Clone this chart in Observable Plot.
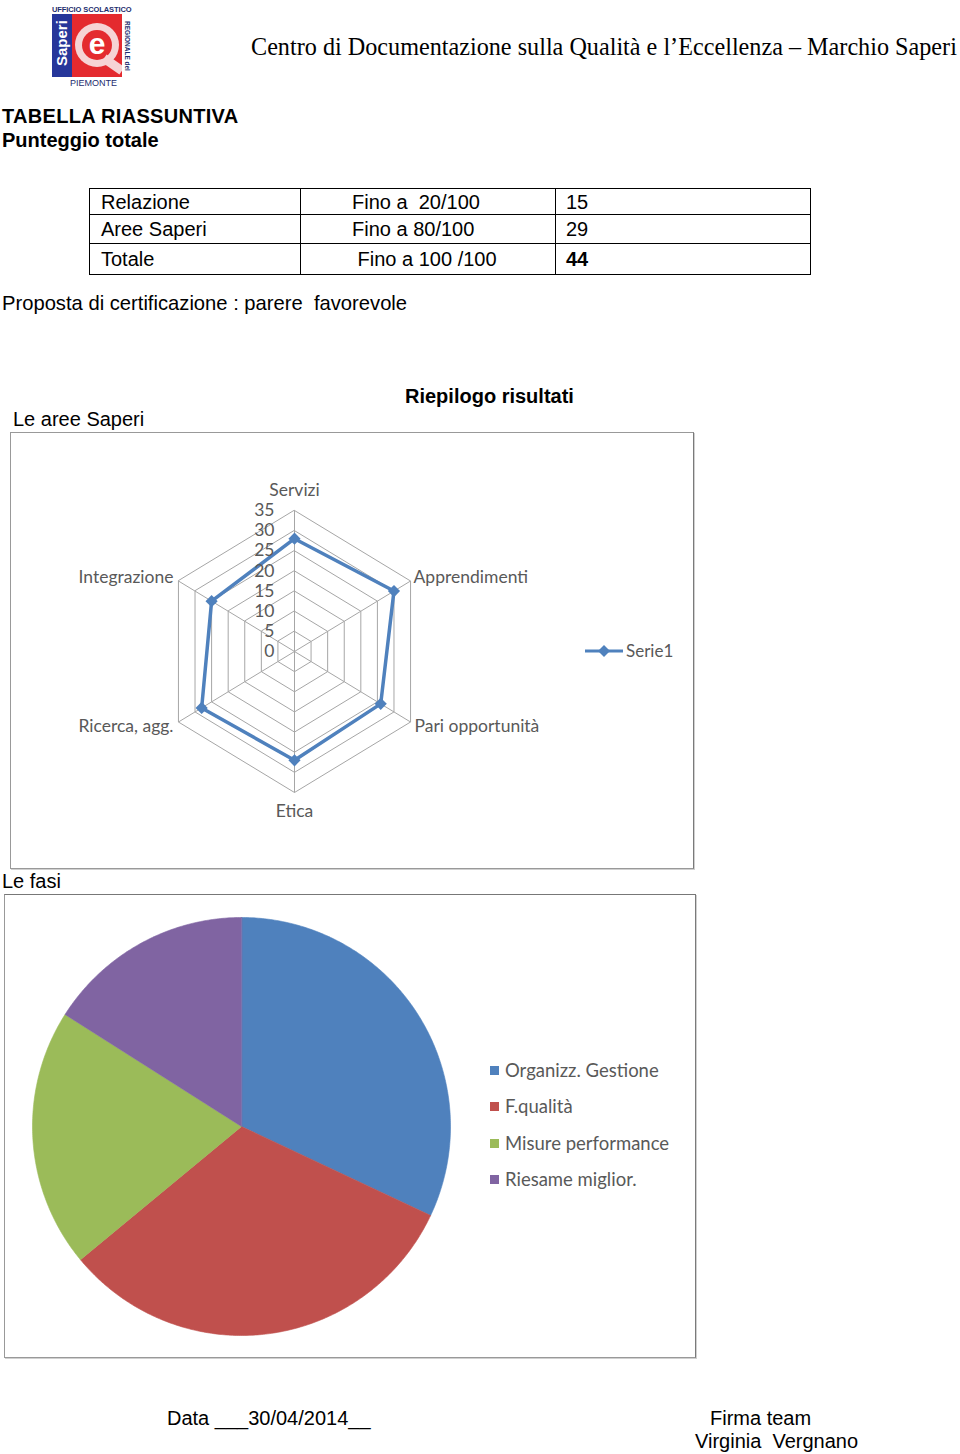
<!DOCTYPE html>
<html><head><meta charset="utf-8">
<script src="https://cdn.jsdelivr.net/npm/d3@7"></script>
<script src="https://cdn.jsdelivr.net/npm/@observablehq/plot@0.6"></script>
<style>
html,body{margin:0;padding:0;background:#fff}
body{width:960px;height:1454px;position:relative;overflow:hidden;font-family:"Liberation Sans",Arial,sans-serif;color:#000}
.t{position:absolute;white-space:pre;line-height:1}
.box{position:absolute;box-sizing:border-box;border:1px solid #999;border-right-color:#7a7a7a;box-shadow:1px 1px 0 #d0d0d0}
.chart{position:absolute}
table.sum{position:absolute;left:89px;top:188px;border-collapse:collapse;font-size:20px}
table.sum td{border:1px solid #000;padding:0;vertical-align:middle;white-space:pre;line-height:1}
.lg{position:absolute;font-family:Lato,"Open Sans",sans-serif;color:#595959;font-size:18.5px;line-height:1;white-space:pre}
.sq{position:absolute;width:9px;height:9px}
</style></head><body>
<script>
// ---------- data ----------
const headerTitle = "Centro di Documentazione sulla Qualità e l’Eccellenza – Marchio Saperi";
const tableLabels = ["Relazione", "Aree Saperi", "Totale"];
const tableRanges = ["Fino a  20/100", "Fino a 80/100", " Fino a 100 /100"];
const tableScores = ["15", "29", "44"];

const radarAxes = ["Servizi", "Apprendimenti", "Pari opportunità", "Etica", "Ricerca, agg.", "Integrazione"];
const serie1 = [28, 30, 26, 27, 28, 25];
const radarTicks = [0, 5, 10, 15, 20, 25, 30, 35];
const radarSeriesName = "Serie1";

const phases = ["Organizz. Gestione", "F.qualità", "Misure performance", "Riesame miglior."];
const phaseValues = [8, 8, 5, 4];
const phaseColors = ["#4F81BD", "#C0504D", "#9BBB59", "#8064A2"];
</script>

<!-- logo -->
<div style="position:absolute;left:52px;top:5px;width:80px;font:bold 7.5px 'Liberation Sans',Arial;color:#1d2d6e;letter-spacing:-0.1px;white-space:nowrap">UFFICIO SCOLASTICO</div>
<div style="position:absolute;left:52px;top:14px;width:20px;height:63px;background:#26369a"></div>
<div style="position:absolute;left:41px;top:36px;width:42px;height:18px;transform:rotate(-90deg);color:#fff;font:bold 15px 'Liberation Sans',Arial;text-align:center;line-height:18px">Saperi</div>
<div style="position:absolute;left:72px;top:14px;width:50px;height:63px;background:#e42a2f;overflow:hidden">
  <div style="position:absolute;left:3px;top:9px;width:44px;height:44px;border-radius:50%;background:#f6d3d5"></div>
  <div style="position:absolute;left:10px;top:16px;width:30px;height:30px;border-radius:50%;background:#e42a2f;color:#fff;font:bold 30px 'Liberation Sans',Arial;text-align:center;line-height:27px">e</div>
  <div style="position:absolute;left:30px;top:46px;width:22px;height:9px;background:#f6d3d5;transform:rotate(35deg)"></div>
</div>
<div style="position:absolute;left:96px;top:42px;width:62px;height:8px;transform:rotate(90deg);font:bold 6.5px 'Liberation Sans',Arial;color:#1d2d6e;white-space:nowrap;text-align:center;line-height:8px">REGIONALE del</div>
<div style="position:absolute;left:70px;top:78px;font:9px 'Liberation Sans',Arial;color:#1d2d6e;white-space:nowrap">PIEMONTE</div>

<div id="hdr" class="t" style="left:251px;top:35px;font-family:'Liberation Serif','Times New Roman',serif;font-size:24.2px"></div>

<div class="t" style="left:2px;top:106px;font-size:20px;font-weight:bold;letter-spacing:0.3px">TABELLA RIASSUNTIVA</div>
<div class="t" style="left:2px;top:130px;font-size:20px;font-weight:bold">Punteggio totale</div>

<table class="sum" id="sumTable"></table>

<div class="t" style="left:2px;top:293px;font-size:20.2px">Proposta di certificazione : parere  favorevole</div>

<div class="t" style="left:405px;top:386px;font-size:20px;font-weight:bold">Riepilogo risultati</div>
<div class="t" style="left:13px;top:409px;font-size:20px">Le aree Saperi</div>

<div class="box" style="left:10px;top:432px;width:684px;height:437px"></div>
<div class="chart" id="radar" style="left:10px;top:432px"></div>
<svg style="position:absolute;left:583px;top:643px" width="44" height="16">
  <line x1="2" y1="8" x2="40" y2="8" stroke="#4F81BD" stroke-width="3"/>
  <path d="M21,2 L27,8 L21,14 L15,8 Z" fill="#4F81BD"/>
</svg>
<div id="radarLg" class="lg" style="left:626px;top:642px;font-size:17px"></div>

<div class="t" style="left:2px;top:871px;font-size:20px">Le fasi</div>
<div class="box" style="left:4px;top:894px;width:692px;height:464px;border-top-color:#777"></div>
<div class="chart" id="pie" style="left:4px;top:894px"></div>
<div id="pieLegend"></div>

<div class="t" style="left:167px;top:1408px;font-size:20px">Data ___30/04/2014__</div>
<div class="t" style="left:710px;top:1408px;font-size:20px">Firma team</div>
<div class="t" style="left:695px;top:1431px;font-size:20px">Virginia  Vergnano</div>

<script>
document.getElementById("hdr").textContent = headerTitle;

// summary table
const tbl = document.getElementById("sumTable");
const rowH = [26, 29, 31];
tableLabels.forEach((lab, i) => {
  const tr = document.createElement("tr");
  tr.style.height = rowH[i] + "px";
  const c1 = document.createElement("td"); c1.textContent = lab; c1.style.width = "211px"; c1.style.paddingLeft = "11px"; c1.style.boxSizing = "border-box";
  const c2 = document.createElement("td"); c2.textContent = tableRanges[i]; c2.style.width = "255px"; c2.style.paddingLeft = "51px"; c2.style.boxSizing = "border-box";
  const c3 = document.createElement("td"); c3.textContent = tableScores[i]; c3.style.width = "255px"; c3.style.paddingLeft = "10px"; c3.style.boxSizing = "border-box";
  if (i === tableLabels.length - 1) c3.style.fontWeight = "bold";
  tr.append(c1, c2, c3);
  tbl.append(tr);
});

// ---------- radar ----------
const rMax = d3.max(radarTicks);
const ang = i => i * 2 * Math.PI / radarAxes.length;
const gridPts = radarTicks.flatMap(t => radarAxes.map((_, i) => ({t, x: t * Math.sin(ang(i)), y: t * Math.cos(ang(i))})));
const spokes = radarAxes.map((a, i) => ({a, x: rMax * Math.sin(ang(i)), y: rMax * Math.cos(ang(i))}));
const serie = radarAxes.map((a, i) => ({a, v: serie1[i], x: serie1[i] * Math.sin(ang(i)), y: serie1[i] * Math.cos(ang(i))}));

const RW = 684, RH = 437, rcx = 284, rcy = 219, rxs = 134, rys = 141;
const lblAnchor = ["middle", "start", "start", "middle", "end", "end"];
const lblDx = [0, 3, 4, 0, -5, -5];
const lblDy = [-20, -4, 4, 19, 4, -4];

const radar = Plot.plot({
  width: RW, height: RH, margin: 0,
  x: {domain: [-rMax, rMax], range: [rcx - rxs, rcx + rxs], axis: null},
  y: {domain: [-rMax, rMax], range: [rcy + rys, rcy - rys], axis: null},
  style: {background: "transparent", fontFamily: "Lato, 'Open Sans', sans-serif", fontSize: "17.5px", color: "#595959", overflow: "visible"},
  marks: [
    Plot.line(gridPts, {x: "x", y: "y", z: "t", curve: "linear-closed", stroke: "#a6a6a6", strokeWidth: 1}),
    Plot.link(spokes, {x1: 0, y1: 0, x2: "x", y2: "y", stroke: "#a6a6a6", strokeWidth: 1}),
    Plot.line(serie, {x: "x", y: "y", curve: "linear-closed", stroke: "#4F81BD", strokeWidth: 3.5}),
    Plot.dot(serie, {x: "x", y: "y", symbol: "diamond2", r: 5.5, fill: "#4F81BD", stroke: "none"}),
    Plot.text(radarTicks, {x: 0, y: d => d, text: d => String(d), textAnchor: "end", dx: -20, fill: "#595959"}),
    ...radarAxes.map((a, i) => Plot.text([spokes[i]], {x: "x", y: "y", text: "a", textAnchor: lblAnchor[i], dx: lblDx[i], dy: lblDy[i], fill: "#595959"}))
  ]
});
document.getElementById("radar").append(radar);
document.getElementById("radarLg").textContent = radarSeriesName;

// ---------- pie ----------
const arcs = d3.pie().sort(null)(phaseValues);
const piePts = arcs.flatMap((a, k) => {
  const n = Math.max(8, Math.ceil((a.endAngle - a.startAngle) / 0.01));
  const pts = [{name: phases[k], x: 0, y: 0}];
  for (let j = 0; j <= n; j++) {
    const t = a.startAngle + (a.endAngle - a.startAngle) * j / n;
    pts.push({name: phases[k], x: Math.sin(t), y: Math.cos(t)});
  }
  return pts;
});
const PW = 692, PH = 464, pcx = 237, pcy = 232, pr = 209;
const pie = Plot.plot({
  width: PW, height: PH, margin: 0,
  x: {domain: [-1, 1], range: [pcx - pr, pcx + pr], axis: null},
  y: {domain: [-1, 1], range: [pcy + pr, pcy - pr], axis: null},
  color: {domain: phases, range: phaseColors},
  style: {background: "transparent", overflow: "visible"},
  marks: [
    Plot.line(piePts, {x: "x", y: "y", z: "name", fill: "name", stroke: "name", strokeWidth: 0.6, curve: "linear-closed"})
  ]
});
document.getElementById("pie").append(pie);

const pl = document.getElementById("pieLegend");
const legY = [1071, 1107, 1144, 1180];
phases.forEach((p, i) => {
  const s = document.createElement("div"); s.className = "sq";
  s.style.left = "490px"; s.style.top = (legY[i] - 5) + "px"; s.style.background = phaseColors[i];
  const t = document.createElement("div"); t.className = "lg";
  t.style.left = "505px"; t.style.top = (legY[i] - 10) + "px"; t.textContent = p;
  pl.append(s, t);
});
</script>
</body></html>
